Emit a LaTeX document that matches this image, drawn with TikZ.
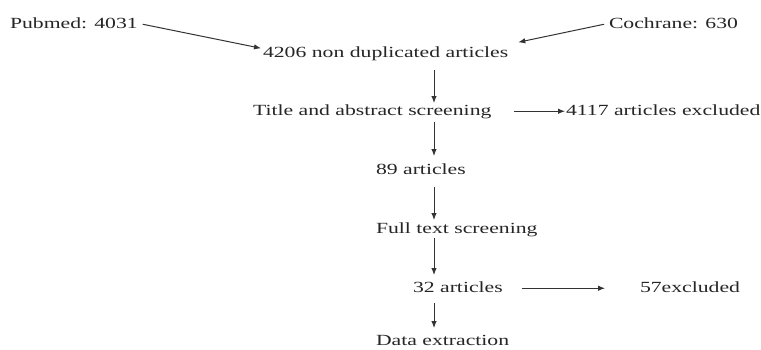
\documentclass[tikz,border=0pt]{standalone}
\usepackage{fontspec}
\setmainfont{Liberation Serif}[FakeStretch=1.4]
\usetikzlibrary{arrows.meta,calc}
\begin{document}
\begin{tikzpicture}[x=1pt,y=-1pt,
  lbl/.style={inner sep=0pt,outer sep=0pt,text height=11pt,text depth=3.5pt,
    font=\fontsize{15.5pt}{18pt}\selectfont,text=black!85,anchor=base west},
  arr/.style={draw=black!80,line width=1pt,-{Latex[length=7pt,width=5.5pt]}}]
\useasboundingbox[fill=white] (0,0) rectangle (761,349);
\coordinate (col) at (434,0);
\node[lbl] (pub) at (10,28) {Pubmed: 4031};
\node[lbl] (coch) at (609,28) {Cochrane: 630};
\node[lbl] (dup) at (263,57) {4206 non duplicated articles};
\node[lbl] (title) at (253,115) {Title and abstract screening};
\node[lbl] (exc1) at (566,115) {4117 articles excluded};
\node[lbl] (a89) at (376,174) {89 articles};
\node[lbl] (full) at (376,233) {Full text screening};
\node[lbl] (a32) at (413,292) {32 articles};
\node[lbl] (exc2) at (640,292) {57excluded};
\node[lbl] (data) at (376,345.5) {Data extraction};
% connectors
\draw[arr] ([xshift=5pt]pub.east) -- ([xshift=-2pt,yshift=5pt]dup.west);
\draw[arr] ([xshift=-5pt]coch.west) -- ([xshift=10pt,yshift=11pt]dup.east);
\draw[arr] ([yshift=-9.5pt]dup.south -| col) -- ([yshift=1pt]title.north -| col);
\draw[arr] ([yshift=-3.5pt]title.south -| col) -- ([yshift=7pt]a89.north -| col);
\draw[arr] ([yshift=-9.5pt]a89.south -| col) -- ([yshift=2pt]full.north -| col);
\draw[arr] ([yshift=-1.5pt]full.south -| col) -- ([yshift=6pt]a32.north -| col);
\draw[arr] ([yshift=-7.5pt]a32.south -| col) -- ([yshift=6.5pt]data.north -| col);
\draw[arr] ([xshift=23pt]title.east) -- ([xshift=-1pt]exc1.west);
\draw[arr] ([xshift=19pt]a32.east) -- ([xshift=-35pt]exc2.west);
\end{tikzpicture}
\end{document}
